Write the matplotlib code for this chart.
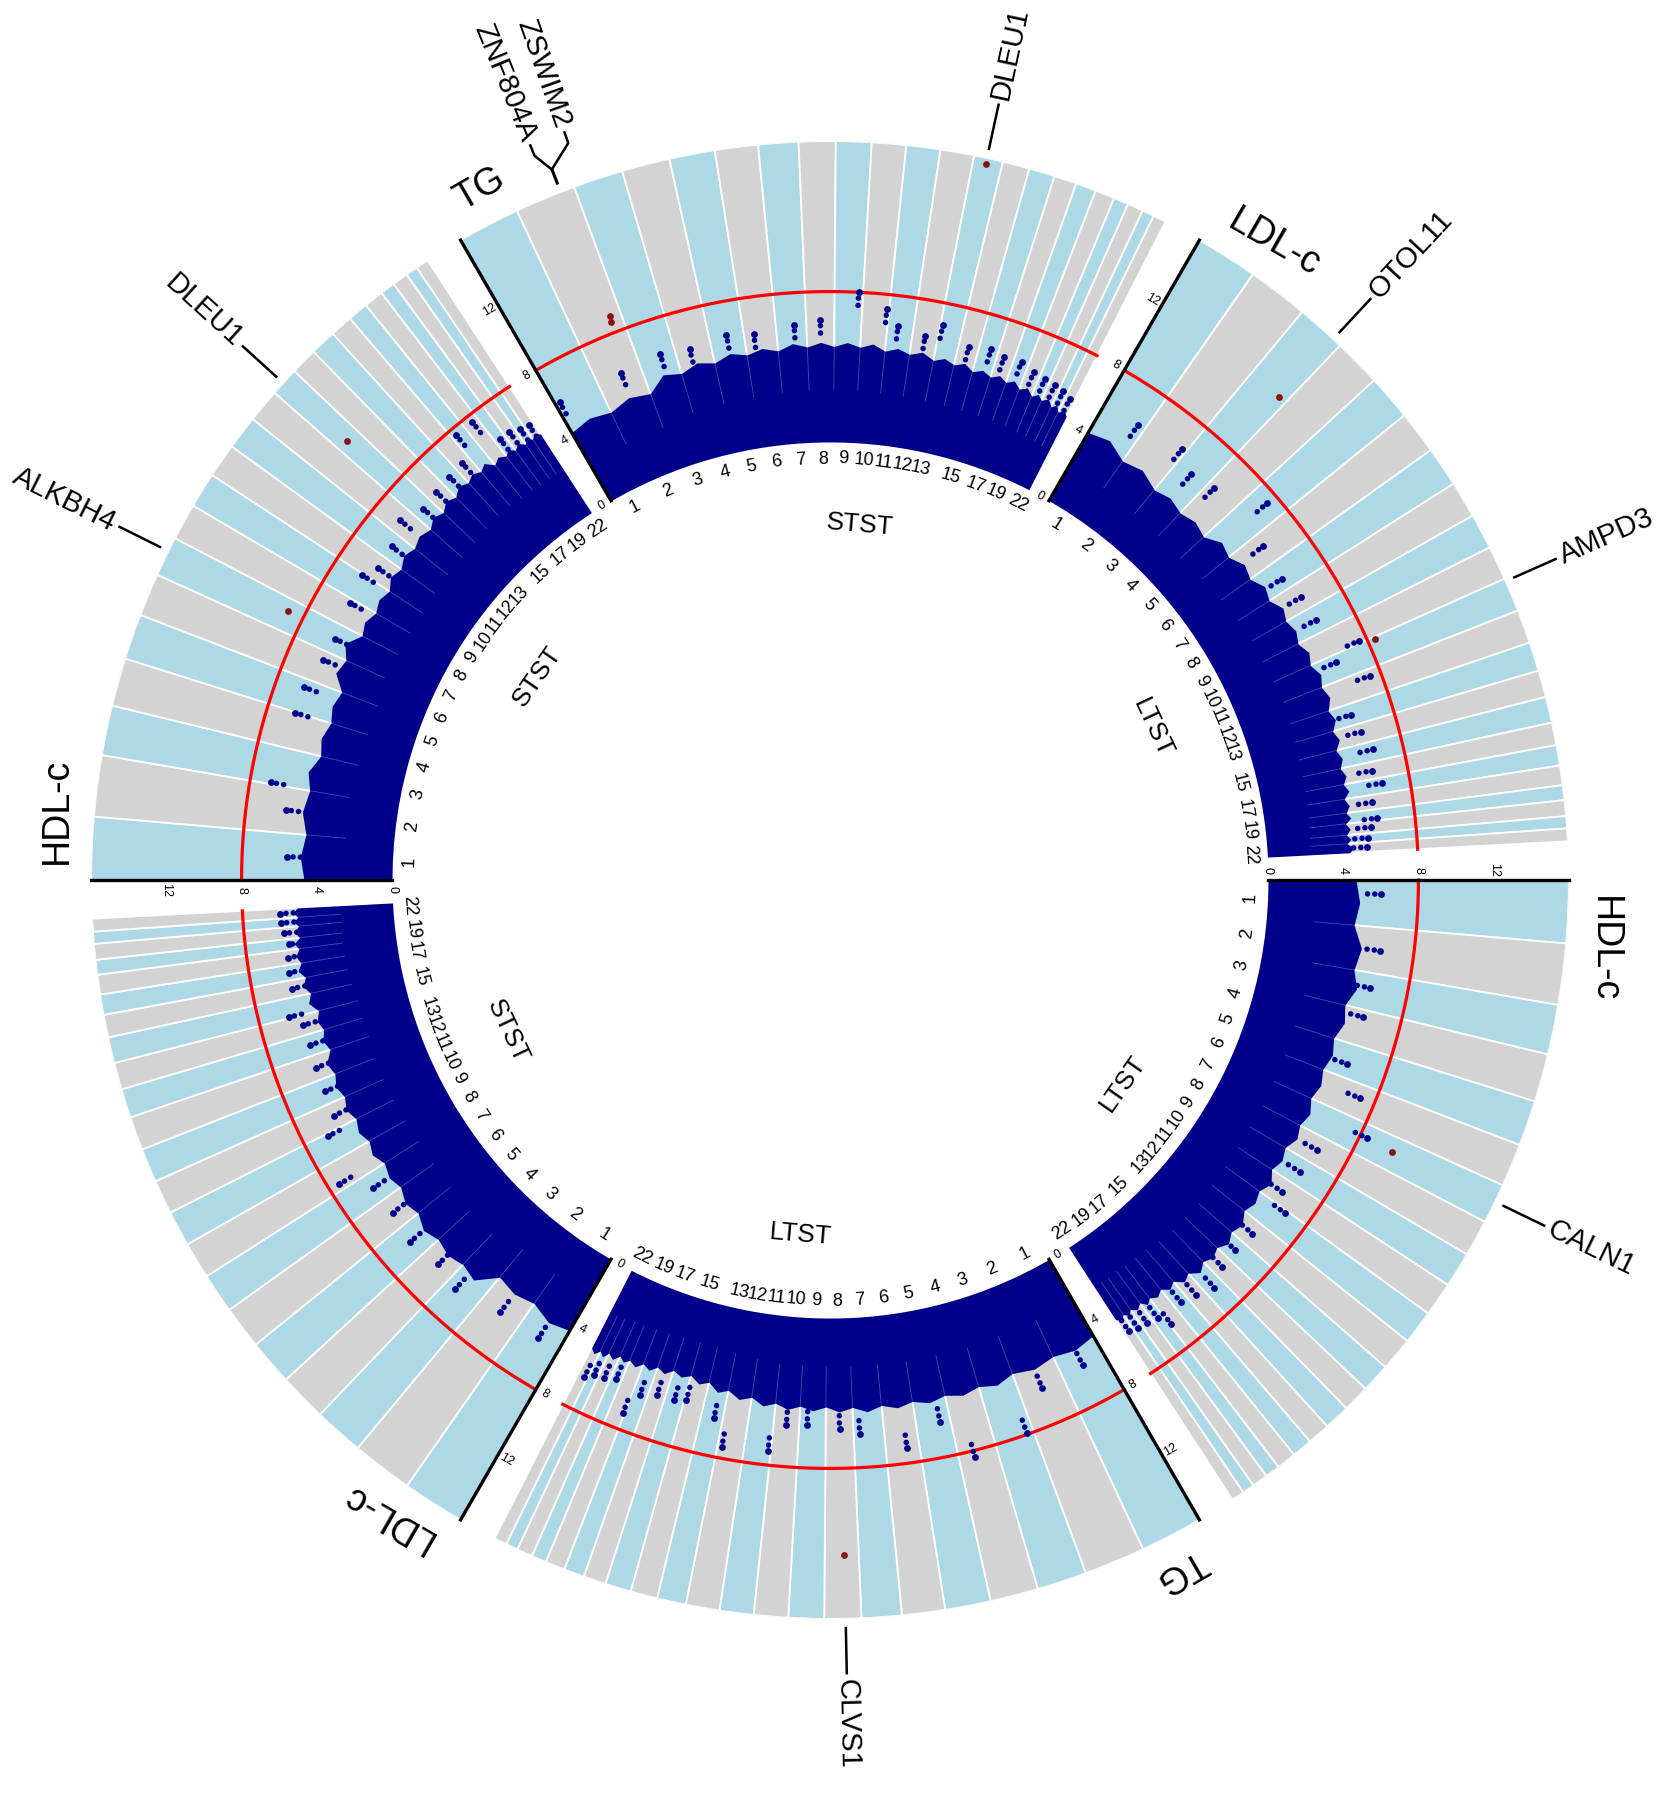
import numpy as np
import matplotlib
matplotlib.use("Agg")
import matplotlib.pyplot as plt

plt.rcParams['font.family'] = ['Liberation Sans', 'DejaVu Sans']

# chromosome lengths (Mb) used for the genome axis of every sector
chr_len = [249, 243, 198, 191, 181, 171, 159, 146, 141, 136, 135, 134,
           115, 107, 103, 90, 81, 78, 59, 63, 48, 51]
chr_shown = [1, 2, 3, 4, 5, 6, 7, 8, 9, 10, 11, 12, 13, 15, 17, 19, 22]

# six sectors, clockwise, each one trait x one group
sector_start = [120, 60, 0, -60, -120, 180]
sector_trait = ["TG", "LDL-c", "HDL-c", "TG", "LDL-c", "HDL-c"]
sector_group = ["STST", "LTST", "LTST", "LTST", "STST", "STST"]

# top of the dense cloud of SNPs per chromosome (-log10 p)
mass_tg_stst = [4.4, 4.5, 5.0, 5.1, 5.2, 5.2, 5.3, 5.3, 5.3, 5.3, 5.2, 5.2,
                5.1, 5.1, 5.0, 5.0, 5.0, 4.9, 4.8, 4.8, 4.7, 4.6]
mass_ldl_ltst = [4.4, 4.1, 3.9, 3.9, 4.2, 4.4, 4.6, 4.8, 4.8, 4.9, 5.0, 5.0,
                 4.9, 4.8, 4.7, 4.7, 4.7, 4.6, 4.6, 4.5, 4.5, 4.6]
mass_hdl_ltst = [4.9, 5.2, 5.3, 5.1, 5.0, 5.0, 5.1, 5.1, 5.0, 5.2, 5.1, 5.3,
                 5.4, 5.3, 5.4, 5.2, 5.0, 4.9, 4.9, 4.8, 4.8, 4.8]
mass_tg_ltst = [4.9, 4.9, 5.0, 5.0, 5.0, 5.0, 5.05, 5.0, 4.95, 4.95, 4.9, 4.75,
                4.6, 4.4, 4.3, 4.4, 4.5, 4.6, 4.6, 4.7, 4.8, 4.85]
mass_ldl_stst = [4.6, 4.4, 5.2, 5.2, 5.25, 5.1, 5.0, 5.1, 5.15, 5.2, 5.2, 5.2,
                 5.0, 5.0, 5.2, 5.3, 5.4, 5.4, 5.4, 5.3, 5.3, 5.3]
mass_hdl_stst = [4.9, 5.0, 5.05, 4.8, 4.75, 5.2, 5.4, 5.0, 4.95, 5.1, 5.2, 5.2,
                 5.3, 5.4, 5.5, 5.5, 5.5, 5.3, 5.3, 5.25, 5.2, 5.2]

# strongest non-significant SNP per chromosome and its place on the chromosome (fraction)
peak_tg_stst = [5.9, 5.9, 6.1, 5.9, 6.2, 6.0, 6.3, 6.5, 8.0, 7.2, 6.4, 6.1,
                6.8, 6.0, 6.2, 6.0, 6.1, 5.8, 5.7, 5.6, 5.5, 5.3]
ppos_tg_stst = [0.1, 0.55, 0.6, 0.4, 0.5, 0.3, 0.6, 0.5, 0.84, 0.91, 0.4, 0.5,
                0.1, 0.5, 0.6, 0.4, 0.5, 0.5, 0.5, 0.5, 0.5, 0.5]
peak_ldl_ltst = [5.9, 6.3, 5.6, 5.9, 7.4, 5.8, 5.6, 5.9, 6.0, 7.6, 6.0, 7.4,
                 5.8, 6.0, 6.4, 6.1, 6.5, 5.8, 6.0, 5.6, 5.4, 5.3]
ppos_ldl_ltst = [0.83, 0.9, 0.5, 0.2, 0.5, 0.4, 0.6, 0.5, 0.5, 0.9, 0.3, 0.25,
                 0.5, 0.4, 0.4, 0.5, 0.35, 0.5, 0.8, 0.5, 0.5, 0.5]
peak_hdl_ltst = [6.0, 6.2, 6.0, 6.0, 5.9, 7.2, 8.4, 6.3, 6.1, 5.9, 6.7, 6.0,
                 5.9, 6.0, 6.5, 6.1, 5.9, 6.5, 5.8, 5.7, 5.6, 5.5]
ppos_hdl_ltst = [0.3, 0.5, 0.4, 0.2, 0.6, 0.4, 0.4, 0.5, 0.5, 0.5, 0.1, 0.5,
                 0.5, 0.5, 0.5, 0.5, 0.5, 0.9, 0.5, 0.5, 0.5, 0.5]
peak_tg_ltst = [5.8, 6.0, 7.9, 8.35, 6.1, 7.2, 6.2, 5.9, 5.7, 5.8, 7.25, 7.4,
                6.0, 5.4, 5.6, 5.6, 5.9, 7.1, 5.6, 5.8, 5.9, 6.2]
ppos_tg_ltst = [0.5, 0.5, 0.17, 0.6, 0.3, 0.37, 0.8, 0.5, 0.7, 0.5, 0.1, 0.83,
                0.4, 0.9, 0.5, 0.5, 0.5, 0.1, 0.5, 0.5, 0.5, 0.3]
peak_ldl_stst = [5.6, 5.6, 6.2, 5.9, 6.2, 5.9, 6.0, 7.4, 6.7, 5.9, 5.8, 5.8,
                 5.7, 5.8, 6.4, 5.9, 5.9, 5.8, 5.7, 5.9, 6.0, 6.0]
ppos_ldl_stst = [0.5, 0.5, 0.7, 0.5, 0.5, 0.5, 0.5, 0.22, 0.9, 0.5, 0.5, 0.5,
                 0.5, 0.5, 0.05, 0.5, 0.5, 0.5, 0.5, 0.5, 0.5, 0.5]
peak_hdl_stst = [5.6, 5.9, 6.9, 6.5, 6.5, 6.1, 6.0, 6.2, 6.4, 5.9, 6.0, 6.5,
                 6.0, 6.1, 6.2, 6.3, 7.6, 7.6, 6.0, 6.0, 5.8, 5.7]
ppos_hdl_stst = [0.5, 0.5, 0.04, 0.98, 0.75, 0.73, 0.5, 0.85, 0.95, 0.5, 0.5, 0.5,
                 0.5, 0.5, 0.5, 0.5, 0.3, 0.6, 0.5, 0.5, 0.5, 0.5]

mass_all = [mass_tg_stst, mass_ldl_ltst, mass_hdl_ltst, mass_tg_ltst, mass_ldl_stst, mass_hdl_stst]
peak_all = [peak_tg_stst, peak_ldl_ltst, peak_hdl_ltst, peak_tg_ltst, peak_ldl_stst, peak_hdl_stst]
ppos_all = [ppos_tg_stst, ppos_ldl_ltst, ppos_hdl_ltst, ppos_tg_ltst, ppos_ldl_stst, ppos_hdl_stst]

# genome-wide significant SNPs with their genes
sig_sector = [0, 0, 0, 1, 1, 2, 3, 5, 5]
sig_chr = [13, 2, 2, 3, 11, 7, 8, 13, 7]
sig_pos = [50.9, 185.8, 187.7, 161.0, 10.4, 71.2, 62.0, 50.9, 102.0]
sig_logp = [15.7, 8.6, 8.9, 11.8, 8.4, 9.9, 12.6, 11.4, 8.9]
sig_gene = ["DLEU1", "ZNF804A", "ZSWIM2", "OTOL11", "AMPD3", "CALN1", "CLVS1", "DLEU1", "ALKBH4"]

threshold = 8
ticks = [0, 4, 8, 12]

# ---- layout ----
SPAN = 57.0          # degrees of each sector
R0 = 23.3            # empty inner radius, in -log10 p units
RMAX = 16.0          # outer edge of the band ring
UNIT = 18.8          # pixels per unit
W, H = 1671, 1800
CX, CY = 830, 880    # centre in pixels (from top-left)
NAVY = '#00008B'
BAND = ['#ADD8E6', '#D3D3D3']
DIP = 0.22           # cloud is thinner where two chromosomes meet

total = float(sum(chr_len))
cum = np.concatenate([[0], np.cumsum(chr_len)])


def ang(s, chrom, mb):
    return np.deg2rad(sector_start[s] - (cum[chrom - 1] + mb) / total * SPAN)


def upright(d):
    d = ((d + 180) % 360) - 180
    return d - 90 if 0 <= d < 180 else d + 90


fig = plt.figure(figsize=(W / 100, H / 100), dpi=100)
rad = (R0 + RMAX) * UNIT
ax = fig.add_axes([(CX - rad) / W, (H - CY - rad) / H, 2 * rad / W, 2 * rad / H],
                  projection='polar')
ax.set_ylim(-R0, RMAX)
ax.axis('off')
ax.patch.set_visible(False)

for s in range(6):
    st = sector_start[s]
    mass = mass_all[s]
    peak = peak_all[s]
    ppos = ppos_all[s]
    centers = np.array([ang(s, c + 1, chr_len[c] / 2) for c in range(22)])
    widths = np.deg2rad(np.array(chr_len) / total * SPAN)

    # background bands
    ax.bar(centers, RMAX, width=widths, bottom=0,
           color=[BAND[c % 2] for c in range(22)], edgecolor='white', linewidth=1.3, zorder=1)

    # significance line
    th = np.linspace(np.deg2rad(st), np.deg2rad(st - SPAN), 150)
    ax.plot(th, np.full_like(th, threshold), color='red', lw=2.3, zorder=2)

    # dense SNP cloud: chromosome centres at their height, borders a little lower
    th_m = [np.deg2rad(st)]
    r_m = [mass[0] - DIP]
    for c in range(22):
        th_m.append(centers[c])
        r_m.append(mass[c])
        th_m.append(ang(s, c + 2, 0) if c < 21 else np.deg2rad(st - SPAN))
        r_m.append((min(mass[c], mass[c + 1]) if c < 21 else mass[c]) - DIP)
    ax.fill_between(th_m, 0, r_m, color=NAVY, lw=0, zorder=3)

    # faint streaks at chromosome borders
    for c in range(21):
        tb = ang(s, c + 2, 0)
        top = min(mass[c], mass[c + 1]) - DIP
        ax.plot([tb, tb], [top * 0.55, top], color='#8ea6d6', lw=0.6, alpha=0.45, zorder=4)

    # strongest SNPs: a short stack of dots under each peak
    for c in range(22):
        tp = ang(s, c + 1, ppos[c] * chr_len[c])
        lo = max(mass[c] - 0.3, peak[c] - 0.7)
        ax.plot([tp, tp], [lo, peak[c]], color=NAVY, lw=4.0,
                linestyle=(0, (0.01, 1.3)), dash_capstyle='round', zorder=4)
        ax.scatter([tp], [peak[c]], s=24, color=NAVY, lw=0, zorder=5)

    # axis with tick values
    t0 = np.deg2rad(st)
    ax.plot([t0, t0], [0, RMAX], color='black', lw=2.4, zorder=6, clip_on=False)
    for v in ticks:
        off = 10.0 / ((R0 + v) * UNIT)
        ax.text(t0 + off, v, str(v), fontsize=9, rotation=upright(st),
                ha='center', va='center', rotation_mode='anchor')

    # trait label at the end of the axis
    ax.text(t0 - np.deg2rad(1.2), 16.9, sector_trait[s], fontsize=27, rotation=st - 90,
            ha='left', va='bottom', rotation_mode='anchor')

    # chromosome numbers and group label
    for c in chr_shown:
        tc = centers[c - 1]
        ax.text(tc, -0.9, str(c), fontsize=13, rotation=upright(np.rad2deg(tc)),
                ha='center', va='center', rotation_mode='anchor')
    tg = st - 34.8
    ax.text(np.deg2rad(tg), -4.35, sector_group[s], fontsize=19, rotation=upright(tg),
            ha='center', va='center', rotation_mode='anchor')

# significant SNPs
sig_th = np.array([ang(s, c, p) for s, c, p in zip(sig_sector, sig_chr, sig_pos)])
ax.scatter(sig_th, sig_logp, s=24, color='#8B1010', lw=0, zorder=7)

# gene labels
fork = {"ZNF804A": 0.8, "ZSWIM2": -1.8}
for t, g in zip(sig_th, sig_gene):
    if g in fork:
        tl = t + np.deg2rad(fork[g])
        ax.plot([t, t], [16.5, 17.3], color='black', lw=1.8, clip_on=False)
        ax.plot([t, tl, tl], [17.3, 18.3, 18.9], color='black', lw=1.8, clip_on=False)
    else:
        tl = t
        ax.plot([t, t], [16.5, 18.9], color='black', lw=1.8, clip_on=False)
    dl = np.rad2deg(tl)
    if np.cos(tl) >= -0.01:
        ax.text(tl, 19.2, g, fontsize=21, rotation=dl, ha='left', va='center',
                rotation_mode='anchor')
    else:
        ax.text(tl, 19.2, g, fontsize=21, rotation=dl - 180, ha='right', va='center',
                rotation_mode='anchor')

fig.savefig('out.png', dpi=100)
